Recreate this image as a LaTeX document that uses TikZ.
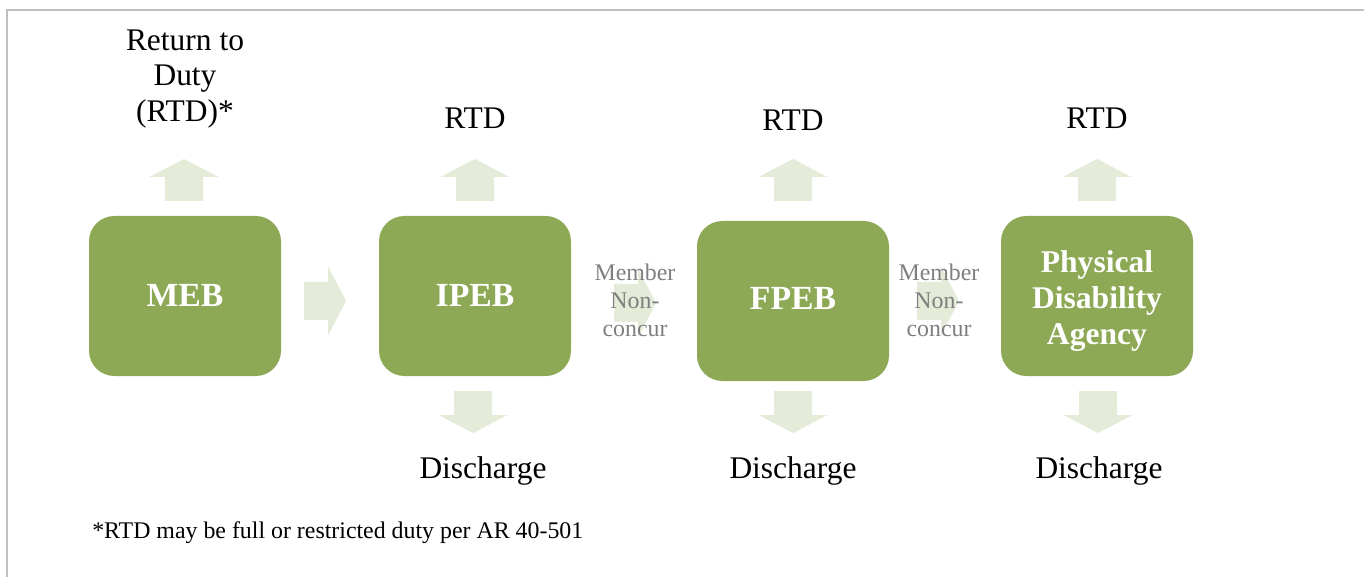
\documentclass[tikz,border=0pt]{standalone}
\usepackage{fontspec}
\setmainfont{Liberation Serif}

\definecolor{boxgreen}{HTML}{8DA955}
\definecolor{arrowgreen}{HTML}{E5EBD9}
\definecolor{framegray}{HTML}{BFBFBF}
\definecolor{notegray}{HTML}{7F7F7F}

% lowers a board's text a little, keeping its size
\newcommand\boardtext[2]{\raisebox{-#1}[\height][\depth]{\begin{tabular}{@{}c@{}}#2\end{tabular}}}

\tikzset{
  stage/.style={rectangle, rounded corners=19pt, fill=boxgreen, text=white,
    font=\bfseries\fontsize{25.3}{28}\selectfont, minimum width=144pt,
    minimum height=120pt, align=center, inner sep=0pt},
  outcome/.style={font=\fontsize{23.6}{26.6}\selectfont, anchor=base, inner sep=0pt},
  note/.style={font=\fontsize{17.9}{21}\selectfont, text=notegray, align=center, inner sep=0pt},
  blockarrow/.pic={\fill[arrowgreen] (-19,0) -- (-19,-24) -- (-34.5,-24) -- (0,-42)
    -- (34.5,-24) -- (19,-24) -- (19,0) -- cycle;}
}

\begin{document}
\begin{tikzpicture}[x=0.75pt, y=-0.75pt]
  \useasboundingbox (0,0) rectangle (1364,577);
  \draw[framegray, line width=1.5pt] (1364,10) -- (7,10) -- (7,577);
  % boards
  \node[stage] (meb) at (185,296) {\boardtext{2pt}{MEB}};
  \node[stage] (ipeb) at (475,296) {\boardtext{2pt}{IPEB}};
  \node[stage] (fpeb) at (793,301) {\boardtext{1pt}{FPEB}};
  \node[stage, font=\bfseries\fontsize{23.7}{28}\selectfont] (pda) at (1097,296)
    {\boardtext{4pt}{Physical\\[-1pt]Disability\\[-1pt]Agency}};
  % arrows up
  \pic at (184,201) {blockarrow};
  \pic at (475,201) {blockarrow};
  \pic at (793,201) {blockarrow};
  \pic at (1097,201) {blockarrow};
  % arrows down
  \pic[rotate=180] at (473,391) {blockarrow};
  \pic[rotate=180] at (793,391) {blockarrow};
  \pic[rotate=180] at (1098,391) {blockarrow};
  % arrows right
  \pic[rotate=-90] at (304,301) {blockarrow};
  \pic[rotate=-90] at (614,303) {blockarrow};
  \pic[rotate=-90] at (917,301) {blockarrow};
  % labels
  \node[outcome, anchor=center, align=center] (rtdmeb) at (185,79) {Return to\\Duty\\(RTD)*};
  \node[outcome] (rtdipeb) at (475,129) {RTD};
  \node[outcome] (rtdfpeb) at (793,131) {RTD};
  \node[outcome] (rtdpda) at (1097,129) {RTD};
  \node[outcome] (disipeb) at (483,478) {Discharge};
  \node[outcome] (disfpeb) at (793,478) {Discharge};
  \node[outcome] (dispda) at (1099,478) {Discharge};
  \node[note] (nonipeb) at (635,300) {Member\\Non-\\concur};
  \node[note] (nonfpeb) at (939,300) {Member\\Non-\\concur};
  \node[font=\fontsize{17.9}{21}\selectfont, anchor=base west, inner sep=0pt] (foot) at (92,538)
    {*RTD may be full or restricted duty per AR 40-501};
\end{tikzpicture}
\end{document}
